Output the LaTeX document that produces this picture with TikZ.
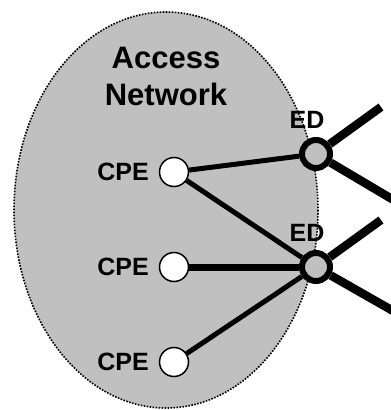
\documentclass[tikz,border=0pt]{standalone}
\usepackage{fontspec}
\setmainfont{Liberation Sans}
\begin{document}
\begin{tikzpicture}[x=1pt,y=-1pt,
  lbl/.style={font=\fontsize{25}{25}\selectfont\bfseries, inner sep=0pt},
  title/.style={font=\fontsize{31}{31}\selectfont\bfseries, inner sep=0pt, anchor=base},
  cpe/.style={circle, draw=black, fill=white, line width=1.5pt, minimum size=29pt, inner sep=0pt},
  edge device/.style={circle, draw=black, fill=netgray, line width=6pt, minimum size=28pt, inner sep=0pt},
  link/.style={line width=5pt},
  trunk/.style={line width=8.5pt}]
\definecolor{netgray}{RGB}{192,192,192}
\useasboundingbox (0,0) rectangle (391,410);
% access network region
\path[fill=netgray, draw=black, line width=1.6pt, dash pattern=on 1.6pt off 1.4pt]
  (166,210) ellipse [x radius=152, y radius=198];
\node[title] (access) at (166,68) {Access};
\node[title] (network) at (166,105) {Network};
% customer premises equipment
\node[cpe] (c1) at (174,172) {};
\node[cpe] (c2) at (174,267) {};
\node[cpe] (c3) at (174,362) {};
\node[lbl, anchor=east] (l1) at (149,172) {CPE};
\node[lbl, anchor=east] (l2) at (149,267) {CPE};
\node[lbl, anchor=east] (l3) at (149,362) {CPE};
% edge devices
\node[edge device] (e1) at (316,154) {};
\node[edge device] (e2) at (316,267) {};
\node[lbl] (le1) at (307,120) {ED};
\node[lbl] (le2) at (307,233) {ED};
% free ends of the trunk lines
\coordinate (t1) at (381,107);
\coordinate (t2) at (402,205);
\coordinate (t3) at (381,220);
\coordinate (t4) at (402,316);
% links
\draw[link] (c1) -- (e1);
\draw[link] (c1) -- (e2);
\draw[line width=7pt] (c2) -- (e2);
\draw[link] (c3) -- (e2);
\draw[trunk] (e1) -- (t1);
\draw[trunk] (e1) -- (t2);
\draw[trunk] (e2) -- (t3);
\draw[trunk] (e2) -- (t4);
\end{tikzpicture}
\end{document}
